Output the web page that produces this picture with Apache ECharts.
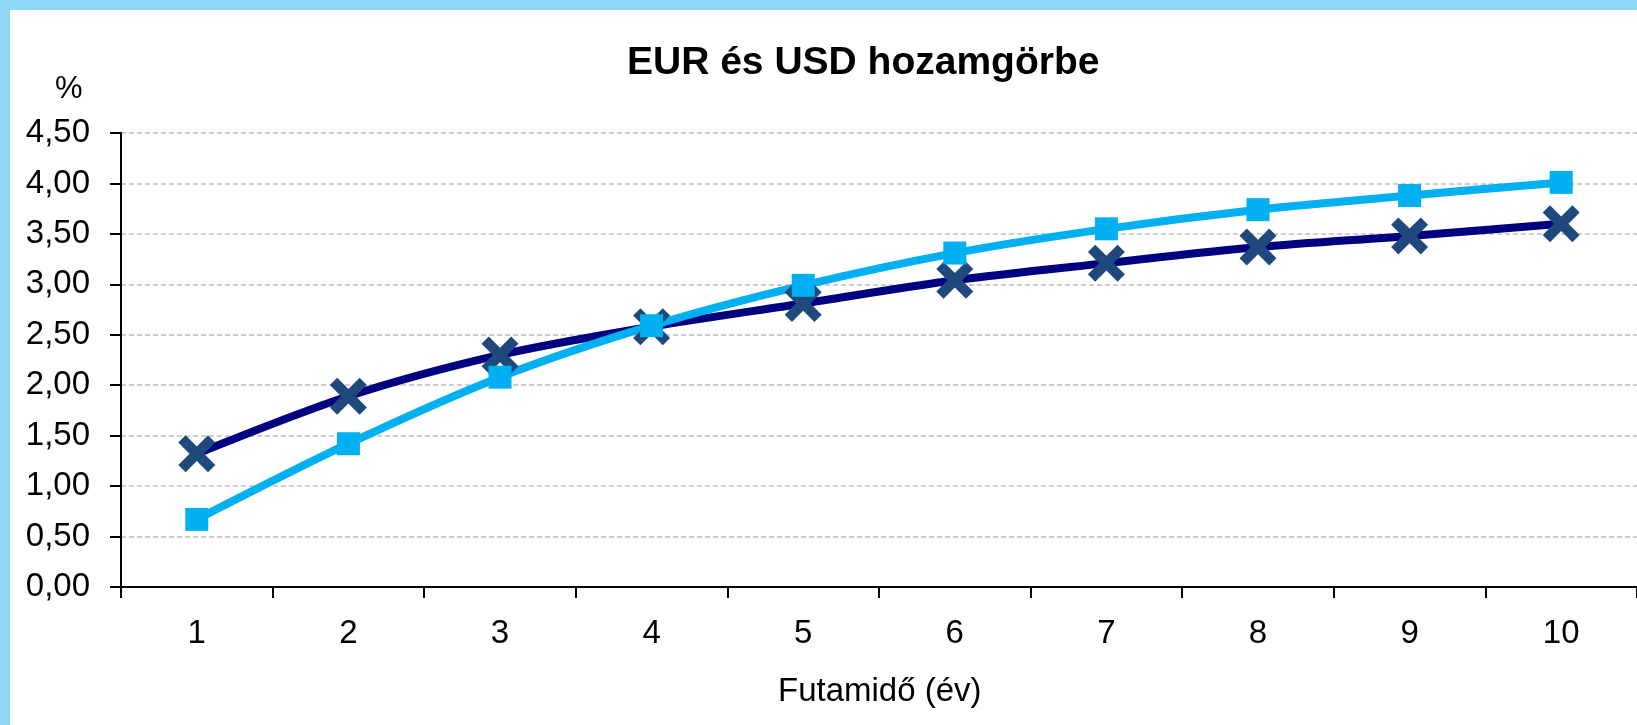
<!DOCTYPE html>
<html>
<head>
<meta charset="utf-8">
<script src="https://cdn.jsdelivr.net/npm/echarts@6/dist/echarts.min.js"></script>
<style>
  html, body { margin: 0; padding: 0; background: #8ED6F6; overflow: hidden; }
  #chart { position: absolute; left: 10px; top: 10px; width: 1627px; height: 715px; background: #fff; }
</style>
</head>
<body>
<div id="chart"></div>
<script>
// maturities in years
var categories = ['1', '2', '3', '4', '5', '6', '7', '8', '9', '10'];
// navy line with X markers
var eurYields = [1.32, 1.89, 2.30, 2.58, 2.81, 3.04, 3.21, 3.37, 3.48, 3.60];
// light blue line with squares
var usdYields = [0.67, 1.42, 2.08, 2.59, 2.99, 3.31, 3.55, 3.74, 3.88, 4.01];

var fontFamily = '"Liberation Sans", Arial, sans-serif';
// plus sign, rotated 45 degrees below to give the X marker
var crossPath = 'path://M-1.35,-5.5 L1.35,-5.5 L1.35,-1.35 L5.5,-1.35 L5.5,1.35 L1.35,1.35 L1.35,5.5 L-1.35,5.5 L-1.35,1.35 L-5.5,1.35 L-5.5,-1.35 L-1.35,-1.35 Z';

var myChart = echarts.init(document.getElementById('chart'));
var option = {
  animation: false,
  textStyle: { fontFamily: fontFamily },
  title: [
    {
      text: 'EUR és USD hozamgörbe',
      left: 612,
      top: 29,
      textStyle: { fontSize: 39, fontWeight: 'bold', color: '#000', fontFamily: fontFamily }
    },
    {
      text: '%',
      left: 40,
      top: 59,
      textStyle: { fontSize: 31, fontWeight: 'normal', color: '#000', fontFamily: fontFamily }
    },
    {
      text: 'Futamidő (év)',
      left: 763,
      top: 660,
      textStyle: { fontSize: 33, fontWeight: 'normal', color: '#000', fontFamily: fontFamily }
    }
  ],
  grid: {
    left: 111,
    top: 123,
    width: 1547,
    height: 454
  },
  xAxis: {
    type: 'category',
    data: categories,
    boundaryGap: true,
    axisLine: { lineStyle: { color: '#000', width: 2 } },
    axisTick: { show: true, length: 11, lineStyle: { color: '#000', width: 2 } },
    axisLabel: { margin: 30, fontSize: 33, color: '#000', fontFamily: fontFamily },
    splitLine: { show: false }
  },
  yAxis: {
    type: 'value',
    min: 0,
    max: 4.5,
    interval: 0.5,
    axisLine: { show: true, lineStyle: { color: '#000', width: 2 } },
    axisTick: { show: true, length: 11, lineStyle: { color: '#000', width: 2 } },
    axisLabel: {
      margin: 31,
      fontSize: 33,
      color: '#000',
      fontFamily: fontFamily,
      formatter: function (v) { return v.toFixed(2).replace('.', ','); }
    },
    splitLine: { show: true, lineStyle: { color: '#BFBFBF', width: 1.5, type: [5, 3] } }
  },
  series: [
    {
      name: 'EUR',
      type: 'line',
      data: eurYields,
      smooth: 0.3,
      symbol: crossPath,
      symbolSize: 42,
      symbolRotate: 45,
      lineStyle: { color: '#000080', width: 8 },
      itemStyle: { color: '#1F497D' }
    },
    {
      name: 'USD',
      type: 'line',
      data: usdYields,
      smooth: 0.3,
      symbol: 'rect',
      symbolSize: 23,
      lineStyle: { color: '#00B0F0', width: 8 },
      itemStyle: { color: '#00B0F0' }
    }
  ]
};

myChart.setOption(option);
</script>
</body>
</html>
